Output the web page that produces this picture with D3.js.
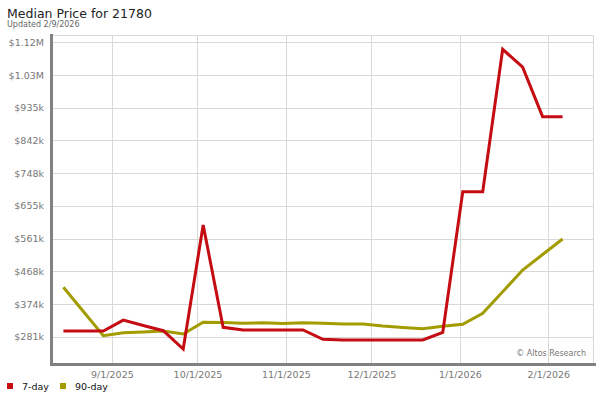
<!DOCTYPE html>
<html>
<head>
<meta charset="utf-8">
<script src="https://cdn.jsdelivr.net/npm/d3@7"></script>
<style>
  body { margin: 0; background: #fff; }
  svg { display: block; font-family: "DejaVu Sans", sans-serif; }
</style>
</head>
<body>
<script>
// weekly dates of the series
var weeks = [
    "2025-08-15", "2025-08-22", "2025-08-29", "2025-09-05", "2025-09-12", "2025-09-19",
    "2025-09-26", "2025-10-03", "2025-10-10", "2025-10-17", "2025-10-24", "2025-10-31",
    "2025-11-07", "2025-11-14", "2025-11-21", "2025-11-28", "2025-12-05", "2025-12-12",
    "2025-12-19", "2025-12-26", "2026-01-02", "2026-01-09", "2026-01-16", "2026-01-23",
    "2026-01-30", "2026-02-06"
]

// 7-day median price
var sevenDay = [
    297000, 297000, 297000, 328000, 312600, 297800,
    245400, 600000, 307500, 299800, 300000, 300000,
    300000, 273200, 271200, 271200, 271200, 271200,
    271200, 293200, 695000, 695000, 1102000, 1051000,
    909500, 909500
]

// 90-day median price
var ninetyDay = [
    421800, 352600, 283500, 292000, 294000, 297000,
    288300, 321800, 321200, 319000, 320600, 318300,
    320600, 319000, 316900, 316900, 311200, 306900,
    303500, 310300, 316000, 347500, 409200, 471300,
    515600, 559900
]

// axis ticks
var yTickValues = [280600, 374100, 467600, 561100, 654600, 748100, 841600, 935100, 1028600, 1122100]
var yTickLabels = ["$281k", "$374k", "$468k", "$561k", "$655k", "$748k", "$842k", "$935k", "$1.03M", "$1.12M"]
var xTickDates = ["2025-09-01", "2025-10-01", "2025-11-01", "2025-12-01", "2026-01-01", "2026-02-01"]
var xTickLabels = ["9/1/2025", "10/1/2025", "11/1/2025", "12/1/2025", "1/1/2026", "2/1/2026"]

var seriesNames = ["7-day", "90-day"]
var seriesColors = ["#c40c12", "#a29c00"]

var parse = d3.timeParse("%Y-%m-%d")

var w = 600
var h = 400
// plot box
var padL = 52, padR = 593, padT = 35, padB = 364

var svg = d3.select("body")
    .append("svg")
    .attr("width", w)
    .attr("height", h)

var xScale = d3.scaleTime()
    .domain([parse("2025-08-11"), new Date(2026, 1, 16, 16)])
    .range([padL, padR])

var yScale = d3.scaleLinear()
    .domain([202570, 1142970])
    .range([padB, padT])

// title
svg.append("text")
    .attr("x", 7)
    .attr("y", 18)
    .attr("font-size", 12.5)
    .attr("fill", "#222")
    .text("Median Price for 21780")

svg.append("text")
    .attr("x", 7)
    .attr("y", 27)
    .attr("font-size", 8)
    .attr("fill", "#666")
    .text("Updated 2/9/2026")

// frame + grid
svg.append("rect")
    .attr("x", padL)
    .attr("y", padT + 0.5)
    .attr("width", padR - padL + 0.5)
    .attr("height", padB - padT)
    .attr("fill", "none")
    .attr("stroke", "#d8d8d8")

svg.append("g")
    .selectAll("line")
    .data(yTickValues)
    .enter()
    .append("line")
    .attr("x1", padL)
    .attr("x2", padR)
    .attr("y1", function(d) { return Math.round(yScale(d)) + 0.5 })
    .attr("y2", function(d) { return Math.round(yScale(d)) + 0.5 })
    .attr("stroke", "#d8d8d8")

svg.append("g")
    .selectAll("line")
    .data(xTickDates)
    .enter()
    .append("line")
    .attr("x1", function(d) { return Math.round(xScale(parse(d))) + 0.5 })
    .attr("x2", function(d) { return Math.round(xScale(parse(d))) + 0.5 })
    .attr("y1", padT)
    .attr("y2", padB)
    .attr("stroke", "#d8d8d8")

// axes
var yAxis = d3.axisLeft(yScale)
    .tickValues(yTickValues)
    .tickFormat(function(d, i) { return yTickLabels[i] })
    .tickSize(0)
    .tickPadding(7)

var gy = svg.append("g")
    .attr("transform", "translate(" + (padL - 1) + ",0)")
    .call(yAxis)
gy.select(".domain").remove()
gy.selectAll("text")
    .attr("font-family", "'DejaVu Sans', sans-serif")
    .attr("font-size", 9.5)
    .attr("fill", "#777")

var xAxis = d3.axisBottom(xScale)
    .tickValues(xTickDates.map(parse))
    .tickFormat(function(d, i) { return xTickLabels[i] })
    .tickSize(0)
    .tickPadding(6)

var gx = svg.append("g")
    .attr("transform", "translate(0," + (padB + 1) + ")")
    .call(xAxis)
gx.select(".domain").remove()
gx.selectAll("text")
    .attr("font-family", "'DejaVu Sans', sans-serif")
    .attr("font-size", 9.5)
    .attr("fill", "#777")

// thick axis lines
svg.append("line")
    .attr("x1", padL - 0.5)
    .attr("x2", padL - 0.5)
    .attr("y1", padT - 1)
    .attr("y2", padB + 2)
    .attr("stroke", "#808080")
    .attr("stroke-width", 3)

svg.append("line")
    .attr("x1", padL - 2)
    .attr("x2", padR + 3)
    .attr("y1", padB + 0.5)
    .attr("y2", padB + 0.5)
    .attr("stroke", "#808080")
    .attr("stroke-width", 3)

// watermark
svg.append("text")
    .attr("x", 586)
    .attr("y", 356)
    .attr("text-anchor", "end")
    .attr("font-size", 8)
    .attr("fill", "#777")
    .text("\u00a9 Altos Research")

// lines
var line = d3.line()
    .x(function(d) { return xScale(d.date) })
    .y(function(d) { return yScale(d.value) })

var series = [sevenDay, ninetyDay]
// draw 90-day first so 7-day sits on top
for (var s = series.length - 1; s >= 0; s--) {
    var pts = weeks.map(function(d, i) { return { date: parse(d), value: series[s][i] } })
    svg.append("path")
        .datum(pts)
        .attr("d", line)
        .attr("fill", "none")
        .attr("stroke", seriesColors[s])
        .attr("stroke-width", 3)
        .attr("stroke-linejoin", "miter")
}

// legend
var legendX = [7, 60]
seriesNames.forEach(function(name, i) {
    svg.append("rect")
        .attr("x", legendX[i])
        .attr("y", 383)
        .attr("width", 6)
        .attr("height", 6)
        .attr("fill", seriesColors[i])
    svg.append("text")
        .attr("x", legendX[i] + 15)
        .attr("y", 390)
        .attr("font-size", 9.5)
        .attr("fill", "#111")
        .text(name)
})
</script>
</body>
</html>
